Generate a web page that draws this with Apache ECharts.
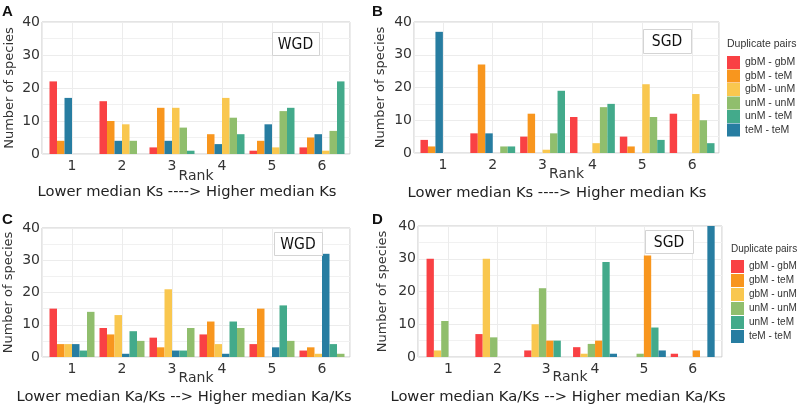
<!DOCTYPE html>
<html><head><meta charset="utf-8">
<script src="https://cdn.jsdelivr.net/npm/echarts@6/dist/echarts.min.js"></script>
<style>html,body{margin:0;padding:0;background:#fff}#c{width:800px;height:405px}</style>
</head><body><div id="c"></div>
<script>
// ---------- data ----------
const ranks = [1, 2, 3, 4, 5, 6];
const yTicks = [0, 10, 20, 30, 40];
const pairNames = ['gbM - gbM', 'gbM - teM', 'gbM - unM', 'unM - unM', 'unM - teM', 'teM - teM'];
const pairColors = ['#f94144', '#f8961e', '#f9c74f', '#90be6d', '#43aa8b', '#277da1'];

// A: WGD, ranked by median Ks
const wgdKs_gbMgbM = [22, 16, 2, 0, 1, 2];
const wgdKs_gbMteM = [4, 10, 14, 6, 4, 5];
const wgdKs_gbMunM = [0, 9, 14, 17, 2, 1];
const wgdKs_unMunM = [0, 4, 8, 11, 13, 7];
const wgdKs_unMteM = [0, 0, 1, 6, 14, 22];
const wgdKs_teMteM = [17, 4, 4, 3, 9, 6];
// B: SGD, ranked by median Ks
const sgdKs_gbMgbM = [4, 6, 5, 11, 5, 12];
const sgdKs_gbMteM = [2, 27, 12, 0, 2, 0];
const sgdKs_gbMunM = [0, 0, 1, 3, 21, 18];
const sgdKs_unMunM = [0, 2, 6, 14, 11, 10];
const sgdKs_unMteM = [0, 2, 19, 15, 4, 3];
const sgdKs_teMteM = [37, 6, 0, 0, 0, 0];
// C: WGD, ranked by median Ka/Ks
const wgdKaKs_gbMgbM = [15, 9, 6, 7, 4, 2];
const wgdKaKs_gbMteM = [4, 7, 3, 11, 15, 3];
const wgdKaKs_gbMunM = [4, 13, 21, 4, 0, 1];
const wgdKaKs_unMunM = [14, 5, 9, 9, 5, 1];
const wgdKaKs_unMteM = [2, 8, 2, 11, 16, 4];
const wgdKaKs_teMteM = [4, 1, 2, 1, 3, 32];
// D: SGD, ranked by median Ka/Ks
const sgdKaKs_gbMgbM = [30, 7, 2, 3, 0, 1];
const sgdKaKs_gbMteM = [0, 0, 5, 5, 31, 2];
const sgdKaKs_gbMunM = [2, 30, 10, 1, 0, 0];
const sgdKaKs_unMunM = [11, 6, 21, 4, 1, 0];
const sgdKaKs_unMteM = [0, 0, 5, 29, 9, 0];
const sgdKaKs_teMteM = [0, 0, 0, 1, 2, 41];

// bar order inside each rank group (indices into pairNames)
const orderA = [0, 1, 5, 2, 3, 4];
const orderB = [0, 1, 5, 2, 3, 4];
const orderC = [0, 1, 2, 5, 4, 3];
const orderD = [0, 2, 3, 1, 4, 5];

// ---------- layout ----------
const FONT = 'DejaVu Sans';
const panels = [
  { letter: 'A', tag: 'WGD', note: 'Lower median Ks ----> Higher median Ks',
    values: [wgdKs_gbMgbM, wgdKs_gbMteM, wgdKs_gbMunM, wgdKs_unMunM, wgdKs_unMteM, wgdKs_teMteM], order: orderA,
    grid: { left: 42, top: 22, width: 308, height: 132 }, xMin: 0.4, xMax: 6.56, yGap: 26, rankGap: 15,
    letterPos: [2, 4], box: [272, 32, 47, 23], notePos: [187, 192] },
  { letter: 'B', tag: 'SGD', note: 'Lower median Ks ----> Higher median Ks',
    values: [sgdKs_gbMgbM, sgdKs_gbMteM, sgdKs_gbMunM, sgdKs_unMunM, sgdKs_unMteM, sgdKs_teMteM], order: orderB,
    grid: { left: 414, top: 22, width: 305, height: 131 }, xMin: 0.42, xMax: 6.54, yGap: 27, rankGap: 14,
    letterPos: [372, 4], box: [643, 29, 48, 24], notePos: [557, 193] },
  { letter: 'C', tag: 'WGD', note: 'Lower median Ka/Ks --> Higher median Ka/Ks',
    values: [wgdKaKs_gbMgbM, wgdKaKs_gbMteM, wgdKaKs_gbMunM, wgdKaKs_unMunM, wgdKaKs_unMteM, wgdKaKs_teMteM], order: orderC,
    grid: { left: 42, top: 228, width: 308, height: 129 }, xMin: 0.4, xMax: 6.56, yGap: 27, rankGap: 14,
    letterPos: [2, 212], box: [274, 232, 48, 23], notePos: [184, 397] },
  { letter: 'D', tag: 'SGD', note: 'Lower median Ka/Ks --> Higher median Ka/Ks',
    values: [sgdKaKs_gbMgbM, sgdKaKs_gbMteM, sgdKaKs_gbMunM, sgdKaKs_unMunM, sgdKaKs_unMteM, sgdKaKs_teMteM], order: orderD,
    grid: { left: 418, top: 226, width: 304, height: 131 }, xMin: 0.375, xMax: 6.6, yGap: 29, rankGap: 13,
    letterPos: [372, 212], box: [645, 230, 48, 23], notePos: [558, 397] }
];

const grids = [], xAxes = [], yAxes = [], series = [], graphics = [];
panels.forEach((p, pi) => {
  grids.push(Object.assign({ show: true, borderColor: '#c9c9c9', borderWidth: 1, backgroundColor: '#fff' }, p.grid));
  xAxes.push({
    type: 'value', gridIndex: pi, min: p.xMin, max: p.xMax,
    name: 'Rank', nameLocation: 'middle', nameGap: p.rankGap, nameMoveOverlap: false,
    nameTextStyle: { fontFamily: FONT, fontSize: 14, color: '#333' },
    axisLine: { show: false }, axisTick: { show: false },
    axisLabel: { margin: 5, fontFamily: FONT, fontSize: 14, color: '#333',
      formatter: v => (ranks.indexOf(v) >= 0 ? String(v) : '') },
    splitLine: { show: true, lineStyle: { color: '#ececec', width: 1 } }
  });
  yAxes.push({
    type: 'value', gridIndex: pi, min: 0, max: 40, interval: 10,
    name: 'Number of species', nameLocation: 'middle', nameGap: p.yGap,
    nameTextStyle: { fontFamily: FONT, fontSize: 13, color: '#333' },
    axisLine: { show: false }, axisTick: { show: false },
    axisLabel: { margin: 2, fontFamily: FONT, fontSize: 14, color: '#333',
      formatter: v => (yTicks.indexOf(v) >= 0 ? String(v) : '') },
    splitLine: { show: true, lineStyle: { color: '#ececec', width: 1 } },
    minorTick: { show: false, splitNumber: 2 },
    minorSplitLine: { show: true, lineStyle: { color: '#f1f1f1', width: 1 } }
  });
  p.order.forEach(k => {
    series.push({
      type: 'bar', name: pairNames[k], xAxisIndex: pi, yAxisIndex: pi,
      barGap: '0%', barCategoryGap: '10%',
      itemStyle: { color: pairColors[k] },
      data: ranks.map((r, i) => [r, p.values[k][i]])
    });
  });
  graphics.push({ type: 'text', left: p.letterPos[0], top: p.letterPos[1],
    style: { text: p.letter, font: 'bold 15px "Liberation Sans", Arial, sans-serif', fill: '#111' } });
  graphics.push({ type: 'rect', left: p.box[0], top: p.box[1], z: 5,
    shape: { width: p.box[2], height: p.box[3] },
    style: { fill: '#fff', stroke: '#d4d4d4', lineWidth: 1 } });
  graphics.push({ type: 'text', x: p.box[0] + p.box[2] / 2, y: p.box[1] + p.box[3] / 2 + 1, z: 6,
    style: { text: p.tag, font: '15.5px "Liberation Sans Narrow", "DejaVu Sans Condensed", sans-serif',
      fill: '#111', textAlign: 'center', textVerticalAlign: 'middle' } });
  graphics.push({ type: 'text', x: p.notePos[0], y: p.notePos[1],
    style: { text: p.note, font: '14.7px "DejaVu Sans", sans-serif', fill: '#222',
      textAlign: 'center', textVerticalAlign: 'middle' } });
});

const legendPos = [{ x: 727, title: 44, top: 56, gap: 0.5, fs: 10.5 }, { x: 731, title: 249, top: 260, gap: 1, fs: 10 }];
const legends = legendPos.map(l => ({
  orient: 'vertical', left: l.x, top: l.top, padding: 0, itemGap: l.gap,
  itemWidth: 13, itemHeight: 13, icon: 'rect', selectedMode: false,
  data: pairNames,
  textStyle: { fontFamily: '"Liberation Sans", Arial, sans-serif', fontSize: l.fs, color: '#333' }
}));
legendPos.forEach(l => graphics.push({ type: 'text', x: l.x, y: l.title,
  style: { text: 'Duplicate pairs', font: l.fs + 'px "Liberation Sans", Arial, sans-serif', fill: '#333',
    textVerticalAlign: 'middle' } }));

const chart = echarts.init(document.getElementById('c'), null, { renderer: 'canvas' });
chart.setOption({
  animation: false,
  backgroundColor: '#fff',
  grid: grids, xAxis: xAxes, yAxis: yAxes, series: series,
  legend: legends, graphic: graphics
});
</script></body></html>
